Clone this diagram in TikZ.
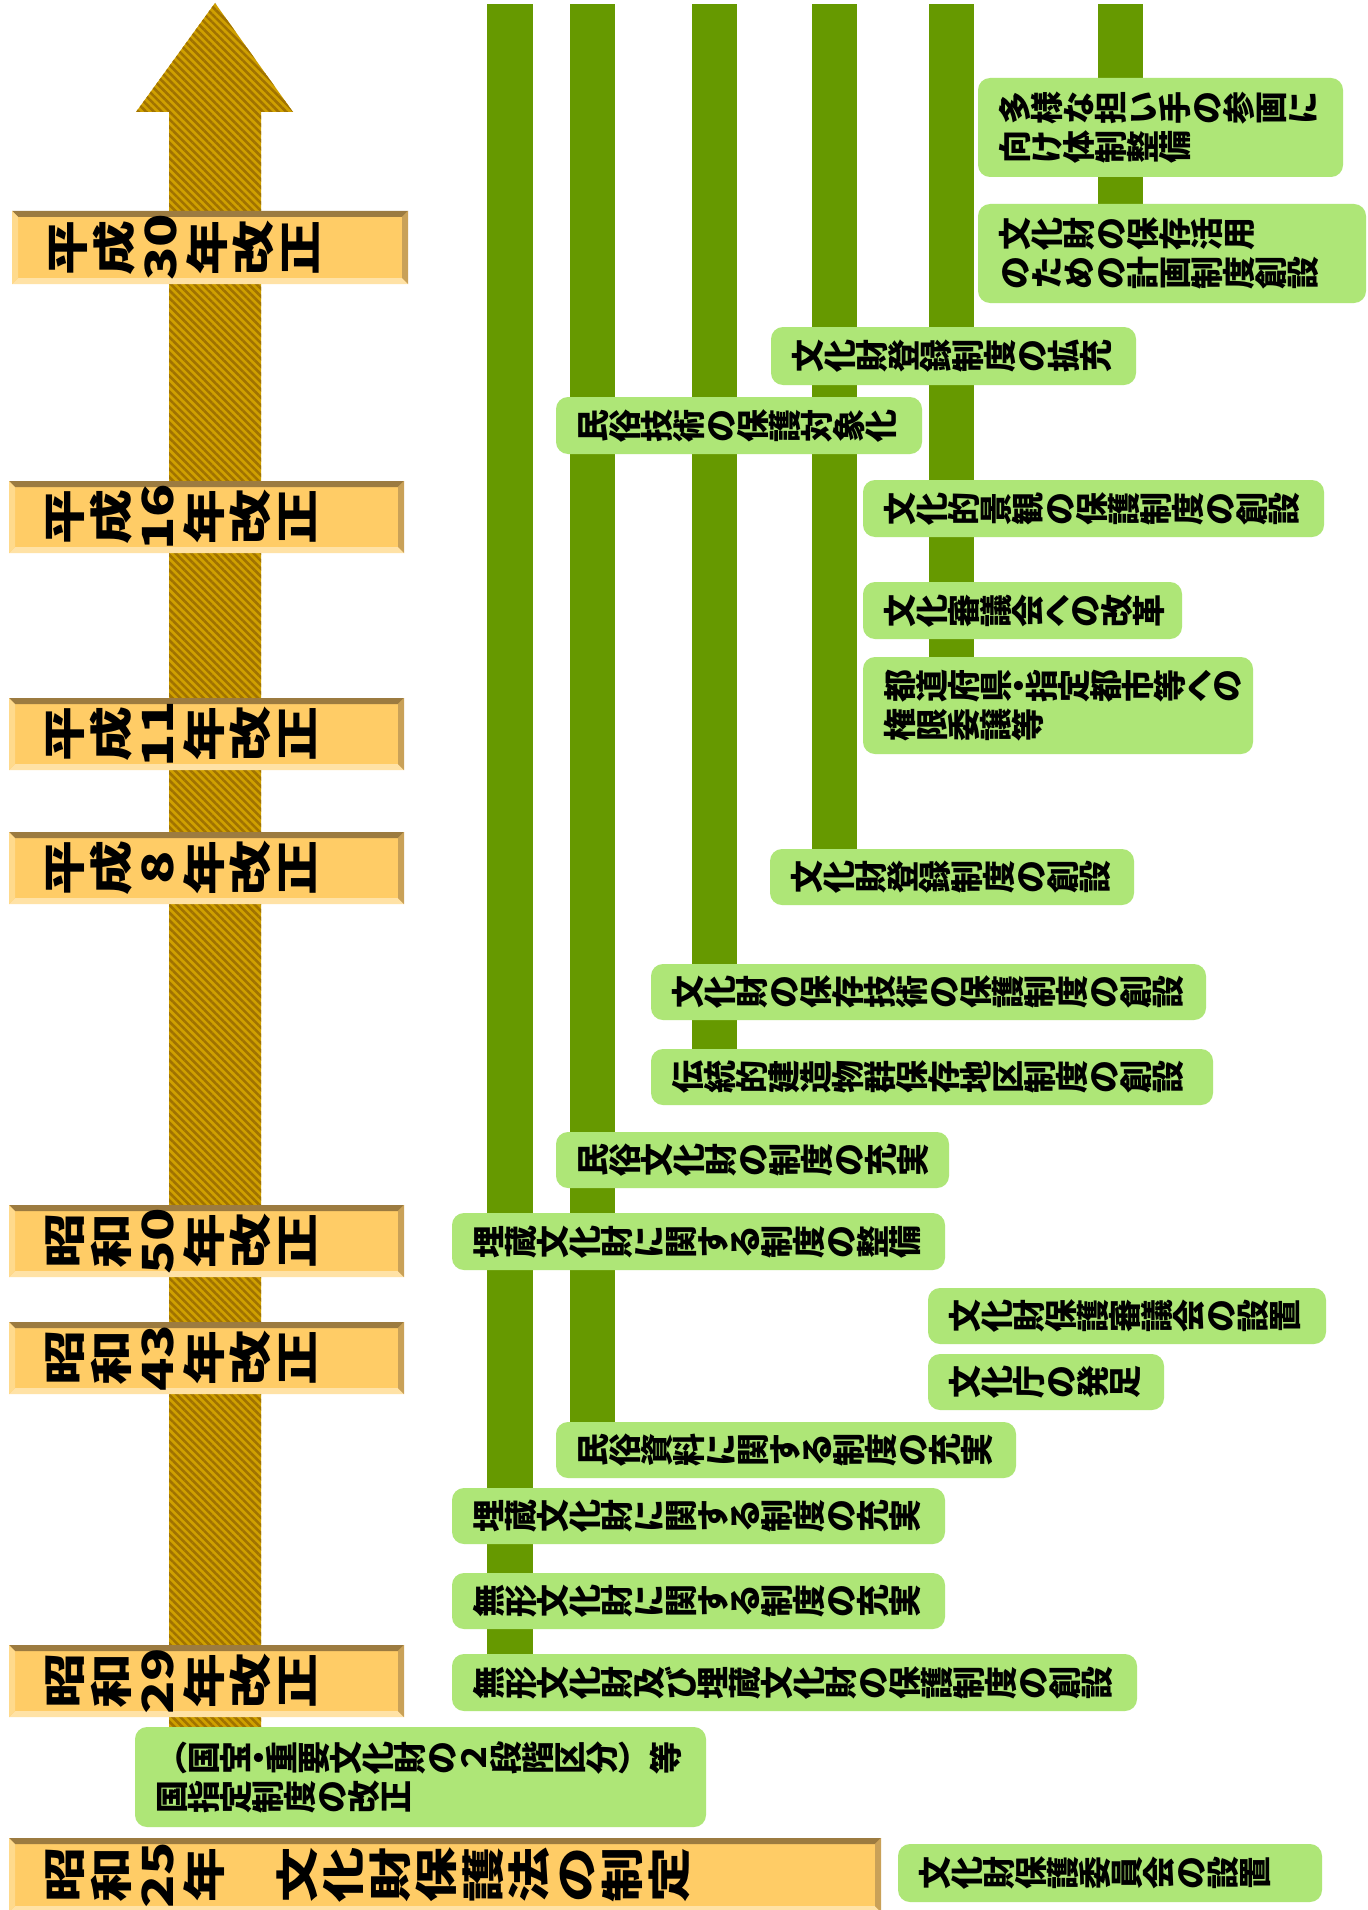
\documentclass[tikz,border=0pt]{standalone}
\usepackage{fontspec}
\usepackage{graphicx}
\usetikzlibrary{patterns.meta}
\newfontfamily\jp{Noto Sans CJK JP}
\definecolor{barc}{HTML}{669900}
\definecolor{gfill}{HTML}{AEE677}
\definecolor{yfill}{HTML}{FFCC66}
\definecolor{ytop}{HTML}{9C7B40}
\definecolor{yright}{HTML}{C9A158}
\definecolor{ybot}{HTML}{FFE2A6}
\definecolor{yleft}{HTML}{FFDA8C}
\definecolor{arrbase}{HTML}{CFA000}
\definecolor{arrstripe}{HTML}{A07200}

\newcommand\rc[1]{\rotatebox[origin=c]{90}{\makebox[1em][c]{\rule[-0.12em]{0pt}{1em}\smash{#1}}}}
\ExplSyntaxOn
\cs_new:Npn \my_gcell:n #1 {
  \str_case:nnF {#1}
   { {・}{\makebox[14pt][c]{\rc{#1}}}
     {へ}{\makebox[25pt][c]{\rc{#1}}} }
   {\makebox[32pt][c]{\rc{#1}}}
}
\cs_new:Npn \my_ycell:n #1 {\makebox[46.5pt][c]{\scalebox{0.78}[1]{\rc{#1}}}}
\NewDocumentCommand\GTxt{m}{\tl_map_function:nN {#1} \my_gcell:n}
\NewDocumentCommand\YTxt{m}{\tl_map_function:nN {#1} \my_ycell:n}
\ExplSyntaxOff

\tikzset{
  gboxs/.style={fill=gfill, draw=none, rounded corners=12pt, inner sep=0pt, outer sep=0pt, anchor=north west},
  gtexts/.style={font=\jp\bfseries\fontsize{33}{39}\selectfont, align=left, inner sep=0pt, anchor=west, text=black},
  ybase/.style={fill=yfill, draw=none, inner sep=0pt, outer sep=0pt, anchor=north west},
  ytext/.style={font=\jp\bfseries\fontsize{55}{60}\selectfont, inner sep=0pt, anchor=west, text=black},
  barfill/.style={fill=barc},
  arrowbody/.style={preaction={fill=arrbase}, pattern={Lines[angle=-45,distance=5.5pt,line width=2.6pt]}, pattern color=arrstripe}
}

\newcommand\gbox[6]{%
  \node[gboxs, minimum width={(#4-#2)*1pt}, minimum height={(#5-#3)*1pt}] (#1) at (#2,#3) {};
  \node[gtexts] (#1-t) at ([xshift=21pt]#1.west) {#6};
}
\newcommand\ybox[6]{%
  \node[ybase, minimum width={(#4-#2)*1pt}, minimum height={(#5-#3)*1pt}] (#1) at (#2,#3) {};
  \fill[ytop] (#2,#3) -- (#4,#3) -- ({#4-6},{#3+6}) -- ({#2+6},{#3+6}) -- cycle;
  \fill[ybot] (#2,#5) -- (#4,#5) -- ({#4-6},{#5-6}) -- ({#2+6},{#5-6}) -- cycle;
  \fill[yright] (#4,#3) -- (#4,#5) -- ({#4-6},{#5-6}) -- ({#4-6},{#3+6}) -- cycle;
  \fill[yleft] (#2,#3) -- (#2,#5) -- ({#2+6},{#5-6}) -- ({#2+6},{#3+6}) -- cycle;
  \node[ytext] (#1-t) at ([xshift=32pt]#1.west) {#6};
}

\begin{document}
\begin{tikzpicture}[x=1pt,y=-1pt]
\useasboundingbox (0,0) rectangle (1367,1910);
\fill[white] (0,0) rectangle (1367,1910);

% timeline arrow
\path[arrowbody] (169,1740) -- (169,112) -- (136,112) -- (215,3) -- (293,112) -- (261,112) -- (261,1740) -- cycle;

% green bars
\fill[barfill] (487,4) rectangle (533,1670);
\fill[barfill] (570,4) rectangle (615,1440);
\fill[barfill] (692,4) rectangle (737,1060);
\fill[barfill] (812,4) rectangle (857,860);
\fill[barfill] (929,4) rectangle (974,670);
\fill[barfill] (1098,4) rectangle (1143,215);

% year boxes
\ybox{y30}{12}{211}{408}{284}{\YTxt{平成{30}年改正}}
\ybox{y16}{9}{481}{404}{553}{\YTxt{平成{16}年改正}}
\ybox{y11}{9}{698}{404}{770}{\YTxt{平成{11}年改正}}
\ybox{y8}{9}{832}{404}{904}{\YTxt{平成8年改正}}
\ybox{s50}{9}{1205}{404}{1277}{\YTxt{昭和{50}年改正}}
\ybox{s43}{9}{1322}{404}{1394}{\YTxt{昭和{43}年改正}}
\ybox{s29}{9}{1645}{404}{1717}{\YTxt{昭和{29}年改正}}
\ybox{s25}{9}{1838}{881}{1912}{\YTxt{昭和{25}年}\hspace{46.5pt}\YTxt{文化財保護法の制定}}

% event boxes
\gbox{a}{978}{78}{1343}{177}{\GTxt{多様な担い手の参画に}\\\GTxt{向け体制整備}}
\gbox{b}{978}{204}{1366}{303}{\GTxt{文化財の保存活用}\\\GTxt{のための計画制度創設}}
\gbox{c}{771}{327}{1136}{385}{\GTxt{文化財登録制度の拡充}}
\gbox{d}{556}{397}{922}{454}{\GTxt{民俗技術の保護対象化}}
\gbox{e}{863}{480}{1324}{537}{\GTxt{文化的景観の保護制度の創設}}
\gbox{f}{863}{582}{1182}{639}{\GTxt{文化審議会への改革}}
\gbox{g}{863}{657}{1253}{754}{\GTxt{都道府県・指定都市等への}\\\GTxt{権限委譲等}}
\gbox{h}{770}{849}{1134}{905}{\GTxt{文化財登録制度の創設}}
\gbox{i}{651}{964}{1206}{1020}{\GTxt{文化財の保存技術の保護制度の創設}}
\gbox{j}{651}{1049}{1213}{1105}{\GTxt{伝統的建造物群保存地区制度の創設}}
\gbox{k}{556}{1132}{949}{1188}{\GTxt{民俗文化財の制度の充実}}
\gbox{l}{452}{1213}{945}{1270}{\GTxt{埋蔵文化財に関する制度の整備}}
\gbox{m}{928}{1288}{1326}{1344}{\GTxt{文化財保護審議会の設置}}
\gbox{n}{928}{1354}{1164}{1410}{\GTxt{文化庁の発足}}
\gbox{o}{556}{1422}{1016}{1478}{\GTxt{民俗資料に関する制度の充実}}
\gbox{p}{452}{1488}{945}{1544}{\GTxt{埋蔵文化財に関する制度の充実}}
\gbox{q}{452}{1573}{945}{1629}{\GTxt{無形文化財に関する制度の充実}}
\gbox{r}{452}{1654}{1137}{1711}{\GTxt{無形文化財及び埋蔵文化財の保護制度の創設}}
\gbox{s}{135}{1727}{706}{1827}{\makebox[32pt][c]{（}\GTxt{国宝・重要文化財の２段階区分}\makebox[32pt][c]{）}\GTxt{等}\\\GTxt{国指定制度の改正}}
\gbox{t}{898}{1844}{1322}{1902}{\GTxt{文化財保護委員会の設置}}
\end{tikzpicture}
\end{document}
